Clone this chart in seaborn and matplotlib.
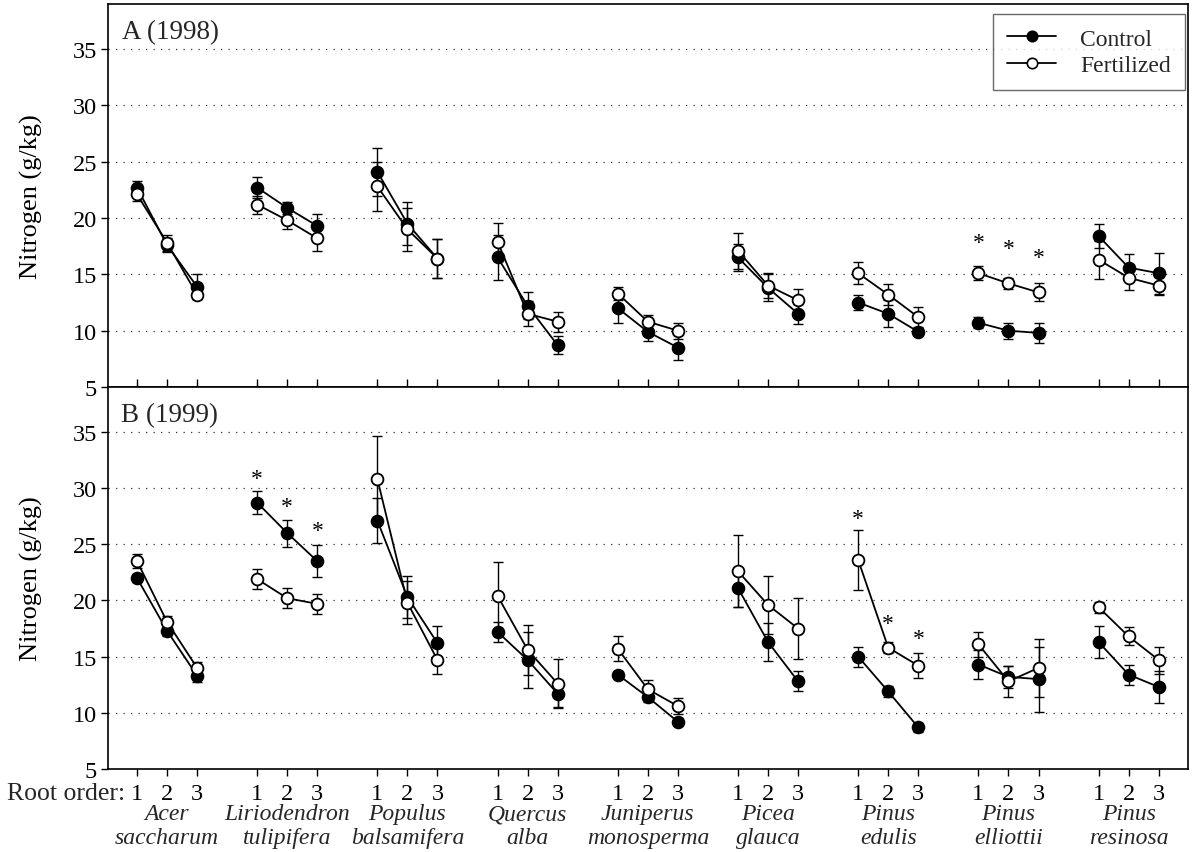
import numpy as np
import pandas as pd
import matplotlib
matplotlib.use("Agg")
import matplotlib.pyplot as plt
import seaborn as sns
from matplotlib.lines import Line2D
from matplotlib.transforms import blended_transform_factory

# ---------------- data ----------------
genus = ["Acer", "Liriodendron", "Populus", "Quercus", "Juniperus", "Picea",
         "Pinus", "Pinus", "Pinus"]
epithet = ["saccharum", "tulipifera", "balsamifera", "alba", "monosperma",
           "glauca", "edulis", "elliottii", "resinosa"]
root_orders = [1, 2, 3]
order_labels = ["1", "2", "3"]
yticks = [5, 10, 15, 20, 25, 30, 35]

# 1998
ctrl_1998 = [[22.7, 17.6, 13.9], [22.7, 20.9, 19.3], [24.1, 19.5, 16.4],
             [16.5, 12.2, 8.7], [12.0, 9.9, 8.5], [16.5, 13.8, 11.5],
             [12.5, 11.5, 9.9], [10.7, 10.0, 9.8], [18.4, 15.6, 15.1]]
ctrl_1998_se = [[0.6, 0.6, 1.1], [0.9, 0.5, 1.1], [2.1, 1.9, 1.7],
                [2.0, 1.2, 0.8], [1.3, 0.8, 1.1], [1.2, 1.2, 0.9],
                [0.7, 1.2, 0.3], [0.5, 0.7, 0.9], [1.1, 1.2, 1.8]]
fert_1998 = [[22.1, 17.8, 13.2], [21.2, 19.8, 18.2], [22.8, 19.0, 16.4],
             [17.9, 11.5, 10.8], [13.3, 10.8, 10.0], [17.1, 14.0, 12.7],
             [15.1, 13.2, 11.2], [15.1, 14.2, 13.4], [16.3, 14.7, 14.0]]
fert_1998_se = [[0.6, 0.7, 0.4], [0.8, 0.8, 1.1], [2.2, 1.9, 1.7],
                [1.7, 1.1, 0.9], [0.6, 0.6, 0.7], [1.6, 1.1, 1.0],
                [1.0, 0.9, 0.9], [0.6, 0.5, 0.8], [1.7, 1.1, 0.8]]
# significance asterisks: (species index, root order, height)
stars_1998 = [(7, 1, 17.8), (7, 2, 17.3), (7, 3, 16.5)]

# 1999
ctrl_1999 = [[22.0, 17.3, 13.3], [28.7, 26.0, 23.5], [27.1, 20.3, 16.2],
             [17.2, 14.7, 11.7], [13.4, 11.4, 9.2], [21.1, 16.3, 12.8],
             [15.0, 11.9, 8.7], [14.3, 13.2, 13.0], [16.3, 13.4, 12.3]]
ctrl_1999_se = [[0.4, 0.5, 0.6], [1.0, 1.2, 1.4], [2.0, 1.9, 1.5],
                [0.9, 2.5, 1.2], [0.3, 0.4, 0.3], [1.7, 1.7, 0.9],
                [0.9, 0.5, 0.4], [1.3, 1.0, 2.9], [1.4, 0.9, 1.4]]
fert_1999 = [[23.5, 18.1, 14.0], [21.9, 20.2, 19.7], [30.8, 19.8, 14.7],
             [20.4, 15.6, 12.6], [15.7, 12.1, 10.6], [22.6, 19.6, 17.5],
             [23.6, 15.8, 14.2], [16.1, 12.8, 14.0], [19.4, 16.8, 14.7]]
fert_1999_se = [[0.6, 0.5, 0.5], [0.9, 0.9, 0.9], [3.8, 1.9, 1.2],
                [3.0, 2.2, 2.2], [1.1, 0.8, 0.7], [3.2, 2.6, 2.7],
                [2.7, 0.5, 1.1], [1.1, 1.4, 2.6], [0.5, 0.8, 1.2]]
stars_1999 = [(1, 1, 30.85), (1, 2, 28.4), (1, 3, 26.2),
              (6, 1, 27.3), (6, 2, 17.95), (6, 3, 16.6)]

# ---------------- style ----------------
sns.set_theme(style="white")
plt.rcParams["font.family"] = ["Liberation Serif", "DejaVu Serif"]

FS_TICK = 17.5
FS_SP = 17
fig = plt.figure(figsize=(11.97, 8.53), dpi=100)
W, H = 1197, 853
L, R = 108, 1188
ax_top = fig.add_axes([L / W, 1 - 388 / H, (R - L) / W, 383 / H])
ax_bot = fig.add_axes([L / W, 1 - 770 / H, (R - L) / W, 382 / H])


def xpos(g):
    return [4 * g + k for k in root_orders]


def draw(ax, ctrl, ctrl_se, fert, fert_se, stars):
    for g in range(len(genus)):
        xs = xpos(g)
        for means, errs, face, z in ((ctrl, ctrl_se, "black", 3),
                                     (fert, fert_se, "white", 5)):
            ax.errorbar(xs, means[g], yerr=errs[g], fmt="none", ecolor="black",
                        elinewidth=1.0, capsize=3.5, capthick=1.0, zorder=z)
            sns.lineplot(x=xs, y=means[g], ax=ax, color="black", linewidth=1.3,
                         marker="o", markersize=8.5, markerfacecolor=face,
                         markeredgecolor="black", markeredgewidth=1.3,
                         zorder=z + 0.5, legend=False)
    for g, k, h in stars:
        ax.text(4 * g + k, h, "*", ha="center", va="center", fontsize=FS_SP,
                color="black", zorder=6)


draw(ax_top, ctrl_1998, ctrl_1998_se, fert_1998, fert_1998_se, stars_1998)
draw(ax_bot, ctrl_1999, ctrl_1999_se, fert_1999, fert_1999_se, stars_1999)

unit = 30.05  # pixels per x unit
all_x = [x for g in range(len(genus)) for x in xpos(g)]
for ax in (ax_top, ax_bot):
    ax.set_xlim(1 + (L - 137) / unit, 1 + (R - 137) / unit)
    ax.set_ylim(5, 39)
    ax.set_yticks(yticks)
    ax.set_xticks(all_x)
    ax.set_axisbelow(True)
    ax.grid(False)
    ax.yaxis.grid(True, linestyle=(0, (1, 5)), color="#333333", linewidth=0.9)
    for sp in ax.spines.values():
        sp.set_visible(True)
        sp.set_color("black")
        sp.set_linewidth(1.2)
    ax.tick_params(axis="y", direction="out", length=5, width=1.0, pad=3,
                   labelsize=FS_TICK, colors="black", left=True)
    ax.set_ylabel("Nitrogen (g/kg)", fontsize=19, color="black")
    ax.yaxis.set_label_coords(-0.060, 0.5)
    ax.set_xlabel("")

ax_top.tick_params(axis="x", direction="in", length=6, width=1.0,
                   labelbottom=False, color="black", bottom=True)
ax_bot.tick_params(axis="x", direction="out", length=5, width=1.0,
                   labelsize=FS_TICK, pad=5, color="black", labelcolor="black",
                   bottom=True)
ax_bot.set_xticklabels(order_labels * len(genus))

# panel labels
ax_top.text(0.013, 0.929, "A (1998)", transform=ax_top.transAxes, fontsize=19.5,
            ha="left", va="center")
ax_bot.text(0.012, 0.929, "B (1999)", transform=ax_bot.transAxes, fontsize=19.5,
            ha="left", va="center")

# species names & root order label
tr = blended_transform_factory(ax_bot.transData, ax_bot.transAxes)
for g in range(len(genus)):
    ax_bot.text(4 * g + 2, -0.131, genus[g], transform=tr, ha="center",
                va="baseline", fontsize=FS_SP, style="italic")
    ax_bot.text(4 * g + 2, -0.193, epithet[g], transform=tr, ha="center",
                va="baseline", fontsize=FS_SP, style="italic")
ax_bot.text(0.62, -0.0785, "Root order:", transform=tr, ha="right",
            va="baseline", fontsize=18.5)

# legend
handles = [Line2D([], [], color="black", lw=1.3, marker="o", ms=7.5,
                  mfc="black", mec="black", mew=1.2),
           Line2D([], [], color="black", lw=1.3, marker="o", ms=7.5,
                  mfc="white", mec="black", mew=1.2)]
leg = ax_top.legend(handles, ["Control", "Fertilized"], loc="upper right",
                    bbox_to_anchor=(1 - 3 / (R - L), (388 - 15) / 383),
                    borderaxespad=0, frameon=True, fancybox=False, fontsize=17,
                    handlelength=2.1, handletextpad=1.0, borderpad=0.6,
                    labelspacing=0.2)
leg.get_frame().set_edgecolor("#444444")
leg.get_frame().set_linewidth(1.0)

fig.savefig("out.png", dpi=100, facecolor="white")
